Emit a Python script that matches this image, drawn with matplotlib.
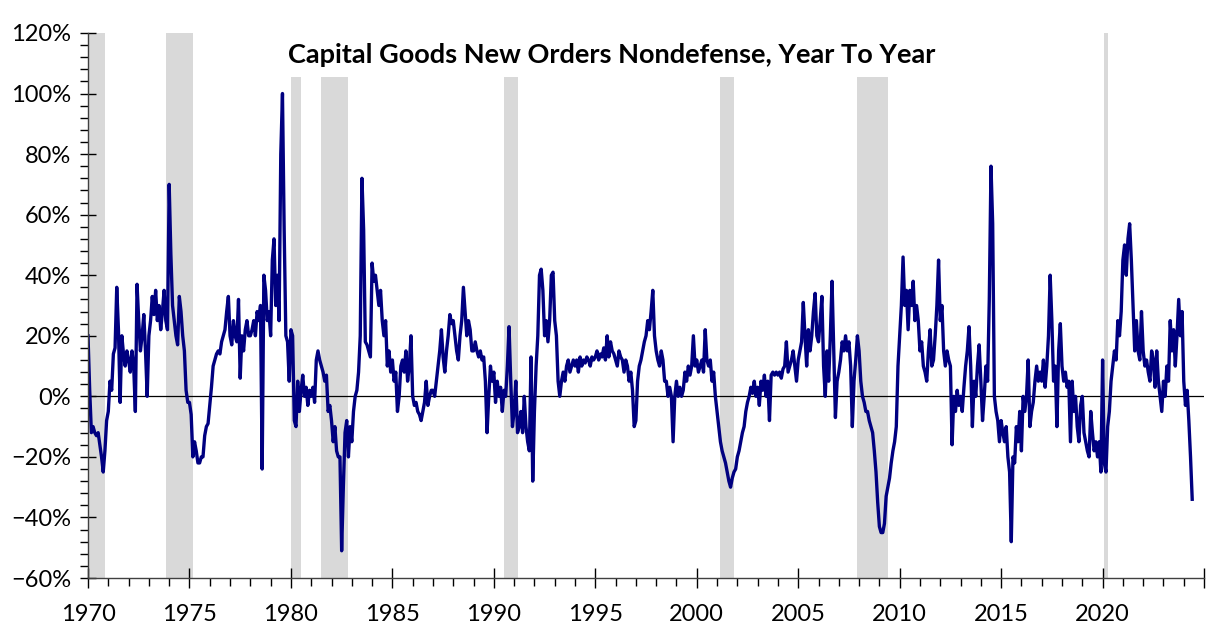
import matplotlib.pyplot as plt
import matplotlib.ticker as mticker
from matplotlib.patches import Rectangle
import numpy as np

# monthly year-to-year change (%), Jan 1970 onwards
values_1970s = [
    20, 2, -12, -10, -12, -13, -12, -16, -20, -25, -18, -8,
    -5, 5, 2, 14, 16, 36, 22, -2, 20, 14, 10, 15,
    12, 8, 15, 10, -5, 37, 25, 15, 20, 27, 15, 0,
    20, 25, 33, 27, 35, 25, 30, 22, 28, 35, 25, 22,
    70, 47, 30, 25, 20, 17, 33, 28, 20, 15, 2, -2,
    -2, -6, -20, -15, -18, -22, -22, -20, -20, -13, -10, -9,
    -3, 3, 10, 12, 14, 15, 14, 18, 20, 22, 28, 33,
    20, 17, 25, 20, 18, 32, 6, 20, 15, 22, 25, 20,
    20, 22, 25, 20, 28, 25, 30, -24, 40, 35, 25, 28,
    20, 45, 52, 30, 40, 25, 80, 100, 55, 20, 18, 5,
]
values_1980s = [
    22, 20, -8, -10, 5, -5, 2, 7, 0, 3, -3, 2,
    0, 3, -2, 12, 15, 12, 10, 8, 5, 7, -5, -3,
    -8, -15, -10, -18, -20, -20, -51, -30, -12, -8, -20, -10,
    -15, -5, 0, 2, 8, 20, 72, 55, 18, 17, 15, 13,
    44, 38, 40, 35, 30, 35, 25, 20, 25, 10, 15, 8,
    12, 5, 8, -5, 0, 10, 12, 8, 15, 5, 10, 20,
    0, -3, -2, -5, -6, -8, -5, -2, 5, -3, 0, 2,
    2, 0, 5, 10, 15, 22, 13, 8, 15, 20, 27, 24,
    25, 20, 15, 12, 20, 25, 36, 28, 20, 25, 22, 15,
    15, 18, 15, 13, 15, 12, 13, 5, -12, 0, 10, 5,
]
values_1990s = [
    8, -2, 5, 0, 3, -5, 2, 0, 10, 23, 5, -10,
    -5, 5, -12, -10, -5, -12, 0, -10, -15, -18, 13, -28,
    -5, 10, 20, 40, 42, 35, 20, 25, 18, 25, 40, 41,
    25, 20, 5, 0, 5, 8, 5, 10, 12, 8, 10, 12,
    10, 12, 8, 13, 10, 12, 11, 13, 12, 10, 13, 12,
    13, 15, 12, 14, 13, 16, 12, 20, 13, 18, 15, 14,
    12, 10, 15, 13, 12, 8, 12, 10, 5, 8, 2, -10,
    -8, 5, 10, 12, 15, 18, 20, 25, 22, 28, 35, 20,
    15, 12, 10, 15, 12, 5, 5, 0, 3, 0, -15, 0,
    5, 0, 3, 0, 2, 8, 5, 10, 7, 10, 20, 10,
]
values_2000s = [
    12, 8, 10, 12, 8, 22, 12, 10, 12, 5, 8, 0,
    -5, -10, -15, -18, -20, -22, -25, -28, -30, -27, -25, -24,
    -20, -18, -15, -12, -10, -5, -2, 0, 3, 1, 5, 0,
    3, -3, 5, 2, 7, 0, 5, -8, 7, 8, 7, 8,
    7, 8, 6, 9, 10, 18, 8, 10, 12, 15, 10, 5,
    12, 15, 18, 31, 20, 10, 22, 15, 20, 28, 34, 20,
    18, 25, 33, 10, 0, 15, 5, 20, 38, 15, -7, 5,
    8, 12, 18, 15, 20, 15, 18, 10, -10, 5, 12, 20,
    15, 5, 0, -2, -5, -5, -8, -10, -12, -18, -25, -35,
    -43, -45, -45, -42, -33, -30, -27, -22, -18, -15, -10, 10,
]
values_2010s = [
    20, 30, 46, 30, 35, 22, 35, 30, 38, 25, 30, 25,
    15, 18, 10, 8, 5, 15, 22, 10, 12, 20, 30, 45,
    25, 30, 15, 10, 15, 12, 10, -16, 0, -5, 2, -3,
    0, -5, 3, 10, 15, 23, 10, -10, 5, 0, 10, 17,
    5, -8, 0, 10, 5, 32, 76, 57, 0, -5, -8, -15,
    -8, -12, -15, -10, -20, -25, -48, -20, -22, -10, -15, -5,
    -18, 0, -5, 0, 12, -10, -5, -2, 5, 10, 5, 8,
    5, 12, 3, 10, 20, 40, 25, 5, 10, -10, 15, 24,
    10, 5, 8, 3, 5, -15, 5, -5, 0, -10, -15, -3,
    0, -12, -15, -18, -20, -5, -12, -18, -15, -20, -15, -25,
]
values_2020s = [
    12, -22, -25, -10, -5, 5, 10, 15, 12, 25, 20, 28,
    45, 50, 40, 52, 57, 45, 30, 15, 25, 15, 12, 28,
    15, 10, 12, 8, 5, 15, 12, 3, 15, 5, 0, -5,
    5, 0, 10, 5, 25, 15, 22, 10, 20, 32, 20, 28,
    5, -3, 2, -8, -20, -34,
]

# NBER recessions as decimal years
recession_start = [1970.0, 1973.83, 1980.0, 1981.5, 1990.5, 2001.17, 2007.92, 2020.08]
recession_end = [1970.83, 1975.17, 1980.5, 1982.83, 1991.17, 2001.83, 2009.42, 2020.25]

title = "Capital Goods New Orders Nondefense, Year To Year"

values = np.array(values_1970s + values_1980s + values_1990s
                  + values_2000s + values_2010s + values_2020s) / 100
dates = 1970 + np.arange(len(values)) / 12

plt.rcParams["font.family"] = ["Lato", "DejaVu Sans"]

fig = plt.figure(figsize=(12.24, 6.34), dpi=100)
ax = fig.add_axes([0.0719, 0.0883, 0.9118, 0.8597])

for start, end in zip(recession_start, recession_end):
    ax.axvspan(start, end, color="#d9d9d9", lw=0, zorder=0)

ax.axhline(0, color="black", lw=0.9, zorder=1)
ax.plot(dates, values, color="#000080", lw=2.4, zorder=2)

ax.set_xlim(1970, 2025)
ax.set_ylim(-0.6, 1.2)

ax.xaxis.set_major_locator(mticker.MultipleLocator(5))
ax.xaxis.set_minor_locator(mticker.MultipleLocator(1))
ax.xaxis.set_major_formatter(
    mticker.FuncFormatter(lambda v, p: "" if v > 2020.5 else "{:.0f}".format(v)))
ax.yaxis.set_major_locator(mticker.MultipleLocator(0.2))
ax.yaxis.set_minor_locator(mticker.MultipleLocator(0.04))
ax.yaxis.set_major_formatter(mticker.PercentFormatter(1.0, decimals=0))

ax.tick_params(axis="x", which="major", direction="inout", length=14, width=1,
               labelsize=17, pad=12)
ax.tick_params(axis="x", which="minor", direction="out", length=6, width=1)
ax.tick_params(axis="y", which="major", direction="inout", length=12, width=1,
               labelsize=17, pad=6)
ax.tick_params(axis="y", which="minor", direction="out", length=6, width=1)

for side in ["top", "right"]:
    ax.spines[side].set_visible(False)
for side in ["left", "bottom"]:
    ax.spines[side].set_color("#404040")
    ax.spines[side].set_linewidth(1)

# white box behind the title, covering the top of the shading
ax.add_patch(Rectangle((0.1747, 0.919), 0.5887, 0.081, transform=ax.transAxes,
                       facecolor="white", edgecolor="none", zorder=3))
ax.text(0.469, 0.959, title, transform=ax.transAxes, ha="center", va="center",
        fontsize=19.5, fontweight="bold", zorder=4)

fig.savefig("out.png", dpi=100, facecolor="white")
